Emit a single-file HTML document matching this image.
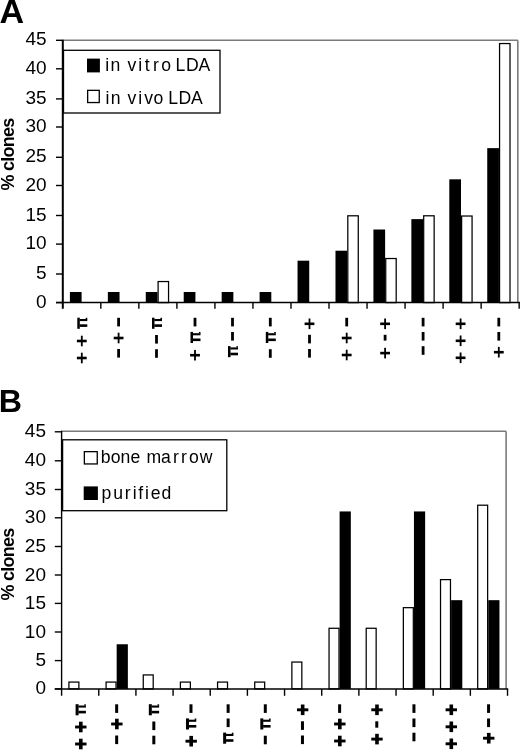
<!DOCTYPE html>
<html><head><meta charset="utf-8"><title>% clones</title>
<style>
html,body{margin:0;padding:0;background:#fff;}
body{width:520px;height:750px;overflow:hidden;}
svg{display:block;will-change:transform;}
text{font-family:"Liberation Sans", sans-serif;font-size:17.6px;fill:#000;letter-spacing:0;}
text.lg{letter-spacing:0;}
text.big{font-weight:bold;font-size:31.5px;letter-spacing:0;stroke:none;}
text.yl{font-weight:bold;font-size:18px;letter-spacing:-0.75px;stroke:none;}
</style></head><body>
<svg width="520" height="750" viewBox="0 0 520 750">
<rect width="520" height="750" fill="#fff"/>
<text transform="translate(-0.6,22.75) scale(1.04,1)" class="big" style="font-size:32.8px">A</text>
<text transform="translate(-1.3,412.3) scale(1.0,1)" class="big" style="font-size:32.2px">B</text>
<line x1="62.8" y1="40.3" x2="517.8" y2="40.3" stroke="#7a7a7a" stroke-width="1.6"/>
<line x1="517.8" y1="40.3" x2="517.8" y2="302.6" stroke="#7a7a7a" stroke-width="1.6"/>
<rect x="69.9" y="291.99" width="11.7" height="10.61" fill="#000"/>
<rect x="107.84" y="291.99" width="11.7" height="10.61" fill="#000"/>
<rect x="145.78" y="291.99" width="11.7" height="10.61" fill="#000"/>
<rect x="158.1" y="281.54" width="10.45" height="21.06" fill="#fff" stroke="#000" stroke-width="1.25"/>
<rect x="183.72" y="291.99" width="11.7" height="10.61" fill="#000"/>
<rect x="221.66" y="291.99" width="11.7" height="10.61" fill="#000"/>
<rect x="259.6" y="291.99" width="11.7" height="10.61" fill="#000"/>
<rect x="297.54" y="260.69" width="11.7" height="41.91" fill="#000"/>
<rect x="335.48" y="250.72" width="11.7" height="51.88" fill="#000"/>
<rect x="347.81" y="215.79" width="10.45" height="86.81" fill="#fff" stroke="#000" stroke-width="1.25"/>
<rect x="373.42" y="229.51" width="11.7" height="73.09" fill="#000"/>
<rect x="385.74" y="258.52" width="10.45" height="44.08" fill="#fff" stroke="#000" stroke-width="1.25"/>
<rect x="411.36" y="219.13" width="11.7" height="83.47" fill="#000"/>
<rect x="423.69" y="215.79" width="10.45" height="86.81" fill="#fff" stroke="#000" stroke-width="1.25"/>
<rect x="449.3" y="179.32" width="11.7" height="123.28" fill="#000"/>
<rect x="461.62" y="216.02" width="10.45" height="86.58" fill="#fff" stroke="#000" stroke-width="1.25"/>
<rect x="487.24" y="148.13" width="11.7" height="154.47" fill="#000"/>
<rect x="499.56" y="43.55" width="10.45" height="259.05" fill="#fff" stroke="#000" stroke-width="1.25"/>
<line x1="62.8" y1="39.7" x2="62.8" y2="308.8" stroke="#000" stroke-width="2"/>
<line x1="56" y1="302.6" x2="519.9" y2="302.6" stroke="#000" stroke-width="1.5"/>
<line x1="56" y1="302.6" x2="62.8" y2="302.6" stroke="#000" stroke-width="1.4"/>
<text transform="translate(46.6,307.7) scale(1.08,1)" text-anchor="end">0</text>
<line x1="56" y1="274" x2="62.8" y2="274" stroke="#000" stroke-width="1.4"/>
<text transform="translate(46.6,279.1) scale(1.08,1)" text-anchor="end">5</text>
<line x1="56" y1="244.1" x2="62.8" y2="244.1" stroke="#000" stroke-width="1.4"/>
<text transform="translate(46.6,249.2) scale(1.08,1)" text-anchor="end">10</text>
<line x1="56" y1="215.5" x2="62.8" y2="215.5" stroke="#000" stroke-width="1.4"/>
<text transform="translate(46.6,220.6) scale(1.08,1)" text-anchor="end">15</text>
<line x1="56" y1="185.5" x2="62.8" y2="185.5" stroke="#000" stroke-width="1.4"/>
<text transform="translate(46.6,190.6) scale(1.08,1)" text-anchor="end">20</text>
<line x1="56" y1="157.3" x2="62.8" y2="157.3" stroke="#000" stroke-width="1.4"/>
<text transform="translate(46.6,162.4) scale(1.08,1)" text-anchor="end">25</text>
<line x1="56" y1="127" x2="62.8" y2="127" stroke="#000" stroke-width="1.4"/>
<text transform="translate(46.6,132.1) scale(1.08,1)" text-anchor="end">30</text>
<line x1="56" y1="98.9" x2="62.8" y2="98.9" stroke="#000" stroke-width="1.4"/>
<text transform="translate(46.6,104) scale(1.08,1)" text-anchor="end">35</text>
<line x1="56" y1="68.8" x2="62.8" y2="68.8" stroke="#000" stroke-width="1.4"/>
<text transform="translate(46.6,73.9) scale(1.08,1)" text-anchor="end">40</text>
<line x1="56" y1="40.3" x2="62.8" y2="40.3" stroke="#000" stroke-width="1.4"/>
<text transform="translate(46.6,45.4) scale(1.08,1)" text-anchor="end">45</text>
<line x1="100.83" y1="302.6" x2="100.83" y2="308.8" stroke="#000" stroke-width="1.4"/>
<line x1="138.86" y1="302.6" x2="138.86" y2="308.8" stroke="#000" stroke-width="1.4"/>
<line x1="176.89" y1="302.6" x2="176.89" y2="308.8" stroke="#000" stroke-width="1.4"/>
<line x1="214.92" y1="302.6" x2="214.92" y2="308.8" stroke="#000" stroke-width="1.4"/>
<line x1="252.95" y1="302.6" x2="252.95" y2="308.8" stroke="#000" stroke-width="1.4"/>
<line x1="290.98" y1="302.6" x2="290.98" y2="308.8" stroke="#000" stroke-width="1.4"/>
<line x1="329.01" y1="302.6" x2="329.01" y2="308.8" stroke="#000" stroke-width="1.4"/>
<line x1="367.04" y1="302.6" x2="367.04" y2="308.8" stroke="#000" stroke-width="1.4"/>
<line x1="405.07" y1="302.6" x2="405.07" y2="308.8" stroke="#000" stroke-width="1.4"/>
<line x1="443.1" y1="302.6" x2="443.1" y2="308.8" stroke="#000" stroke-width="1.4"/>
<line x1="481.13" y1="302.6" x2="481.13" y2="308.8" stroke="#000" stroke-width="1.4"/>
<line x1="519.16" y1="302.6" x2="519.16" y2="308.8" stroke="#000" stroke-width="1.4"/>
<rect x="77.3" y="317.7" width="2.5" height="11.1" fill="#000"/>
<rect x="79.6" y="319" width="7.7" height="2.1" fill="#000"/>
<rect x="79.6" y="324.3" width="7.7" height="2.6" fill="#000"/>
<rect x="85.7" y="317.8" width="1.6" height="1.4" fill="#000"/>
<rect x="80.9" y="335.7" width="1.8" height="10.6" fill="#000"/>
<rect x="76.9" y="339.7" width="9.8" height="2.6" fill="#000"/>
<rect x="80.9" y="352.7" width="1.8" height="10.6" fill="#000"/>
<rect x="76.9" y="356.7" width="9.8" height="2.6" fill="#000"/>
<rect x="117.2" y="317.8" width="2.8" height="8.6" fill="#000"/>
<rect x="117.7" y="332.7" width="1.8" height="10.6" fill="#000"/>
<rect x="113.7" y="336.7" width="9.8" height="2.6" fill="#000"/>
<rect x="117.2" y="349" width="2.8" height="8.6" fill="#000"/>
<rect x="152" y="317.7" width="2.5" height="11.1" fill="#000"/>
<rect x="154.3" y="319" width="7.7" height="2.1" fill="#000"/>
<rect x="154.3" y="324.3" width="7.7" height="2.6" fill="#000"/>
<rect x="160.4" y="317.8" width="1.6" height="1.4" fill="#000"/>
<rect x="155.1" y="335" width="2.8" height="8.6" fill="#000"/>
<rect x="155.1" y="349.2" width="2.8" height="8.6" fill="#000"/>
<rect x="193.6" y="317.8" width="2.8" height="8.6" fill="#000"/>
<rect x="190.5" y="331.9" width="2.5" height="11.1" fill="#000"/>
<rect x="192.8" y="333.2" width="7.7" height="2.1" fill="#000"/>
<rect x="192.8" y="338.5" width="7.7" height="2.6" fill="#000"/>
<rect x="198.9" y="332" width="1.6" height="1.4" fill="#000"/>
<rect x="194.1" y="349.9" width="1.8" height="10.6" fill="#000"/>
<rect x="190.1" y="353.9" width="9.8" height="2.6" fill="#000"/>
<rect x="231.1" y="317.8" width="2.8" height="8.6" fill="#000"/>
<rect x="231.1" y="332" width="2.8" height="8.6" fill="#000"/>
<rect x="228" y="346.1" width="2.5" height="11.1" fill="#000"/>
<rect x="230.3" y="347.4" width="7.7" height="2.1" fill="#000"/>
<rect x="230.3" y="352.7" width="7.7" height="2.6" fill="#000"/>
<rect x="236.4" y="346.2" width="1.6" height="1.4" fill="#000"/>
<rect x="268.9" y="317.8" width="2.8" height="8.6" fill="#000"/>
<rect x="265.8" y="331.9" width="2.5" height="11.1" fill="#000"/>
<rect x="268.1" y="333.2" width="7.7" height="2.1" fill="#000"/>
<rect x="268.1" y="338.5" width="7.7" height="2.6" fill="#000"/>
<rect x="274.2" y="332" width="1.6" height="1.4" fill="#000"/>
<rect x="268.9" y="349.2" width="2.8" height="8.6" fill="#000"/>
<rect x="308.6" y="318.5" width="1.8" height="10.6" fill="#000"/>
<rect x="304.6" y="322.5" width="9.8" height="2.6" fill="#000"/>
<rect x="308.1" y="334.8" width="2.8" height="8.6" fill="#000"/>
<rect x="308.1" y="349" width="2.8" height="8.6" fill="#000"/>
<rect x="345.3" y="317.8" width="2.8" height="8.6" fill="#000"/>
<rect x="345.8" y="332.7" width="1.8" height="10.6" fill="#000"/>
<rect x="341.8" y="336.7" width="9.8" height="2.6" fill="#000"/>
<rect x="345.8" y="349.7" width="1.8" height="10.6" fill="#000"/>
<rect x="341.8" y="353.7" width="9.8" height="2.6" fill="#000"/>
<rect x="384.2" y="318.5" width="1.8" height="10.6" fill="#000"/>
<rect x="380.2" y="322.5" width="9.8" height="2.6" fill="#000"/>
<rect x="383.7" y="334.8" width="2.8" height="5.8" fill="#000"/>
<rect x="384.2" y="347.8" width="1.8" height="10.6" fill="#000"/>
<rect x="380.2" y="351.8" width="9.8" height="2.6" fill="#000"/>
<rect x="421.7" y="317.8" width="2.8" height="8.6" fill="#000"/>
<rect x="421.7" y="332" width="2.8" height="8.6" fill="#000"/>
<rect x="421.7" y="346.2" width="2.8" height="8.6" fill="#000"/>
<rect x="459.7" y="318.5" width="1.8" height="10.6" fill="#000"/>
<rect x="455.7" y="322.5" width="9.8" height="2.6" fill="#000"/>
<rect x="459.7" y="335.5" width="1.8" height="10.6" fill="#000"/>
<rect x="455.7" y="339.5" width="9.8" height="2.6" fill="#000"/>
<rect x="459.7" y="352.5" width="1.8" height="10.6" fill="#000"/>
<rect x="455.7" y="356.5" width="9.8" height="2.6" fill="#000"/>
<rect x="497.4" y="317.8" width="2.8" height="8.6" fill="#000"/>
<rect x="497.4" y="332" width="2.8" height="8.6" fill="#000"/>
<rect x="497.9" y="346.9" width="1.8" height="10.6" fill="#000"/>
<rect x="493.9" y="350.9" width="9.8" height="2.6" fill="#000"/>
<rect x="63.5" y="50.3" width="156.5" height="62.7" fill="#fff" stroke="#000" stroke-width="1.3"/>
<rect x="87" y="58.6" width="12.9" height="13.8" fill="#000"/>
<text x="105.35 110.55 116.55 127.5 138.2 144.8 153.03 161.22 167.22 175.57 185.88 198.43" y="70.9" class="lg">in vitro LDA</text>
<rect x="87.65" y="90.35" width="11.6" height="12.2" fill="#fff" stroke="#000" stroke-width="1.3"/>
<text x="105.55 110.7 116.7 127.5 138.2 144.2 153.57 159.57 168.27 178.57 190.88" y="103.5" class="lg">in vivo LDA</text>
<text transform="translate(14.2,154.6) rotate(-90)" class="yl" text-anchor="middle">% clones</text>
<line x1="61.6" y1="431.3" x2="506.1" y2="431.3" stroke="#7a7a7a" stroke-width="1.6"/>
<line x1="506.1" y1="431.3" x2="506.1" y2="688.9" stroke="#7a7a7a" stroke-width="1.6"/>
<rect x="68.92" y="682.08" width="9.95" height="6.82" fill="#fff" stroke="#000" stroke-width="1.25"/>
<rect x="106.08" y="682.08" width="9.95" height="6.82" fill="#fff" stroke="#000" stroke-width="1.25"/>
<rect x="116.66" y="644.25" width="11.2" height="44.65" fill="#000"/>
<rect x="143.25" y="674.93" width="9.95" height="13.97" fill="#fff" stroke="#000" stroke-width="1.25"/>
<rect x="180.4" y="682.08" width="9.95" height="6.82" fill="#fff" stroke="#000" stroke-width="1.25"/>
<rect x="217.56" y="682.08" width="9.95" height="6.82" fill="#fff" stroke="#000" stroke-width="1.25"/>
<rect x="254.72" y="682.08" width="9.95" height="6.82" fill="#fff" stroke="#000" stroke-width="1.25"/>
<rect x="291.88" y="662.05" width="9.95" height="26.85" fill="#fff" stroke="#000" stroke-width="1.25"/>
<rect x="329.05" y="628.27" width="9.95" height="60.63" fill="#fff" stroke="#000" stroke-width="1.25"/>
<rect x="339.62" y="511.44" width="11.2" height="177.46" fill="#000"/>
<rect x="366.2" y="628.27" width="9.95" height="60.63" fill="#fff" stroke="#000" stroke-width="1.25"/>
<rect x="403.36" y="607.67" width="9.95" height="81.23" fill="#fff" stroke="#000" stroke-width="1.25"/>
<rect x="413.94" y="511.44" width="11.2" height="177.46" fill="#000"/>
<rect x="440.52" y="579.62" width="9.95" height="109.28" fill="#fff" stroke="#000" stroke-width="1.25"/>
<rect x="451.1" y="600.17" width="11.2" height="88.73" fill="#000"/>
<rect x="477.69" y="505.2" width="9.95" height="183.7" fill="#fff" stroke="#000" stroke-width="1.25"/>
<rect x="488.26" y="600.17" width="11.2" height="88.73" fill="#000"/>
<line x1="61.6" y1="430.7" x2="61.6" y2="695.8" stroke="#000" stroke-width="1.4"/>
<line x1="54.8" y1="688.9" x2="508.2" y2="688.9" stroke="#000" stroke-width="1.5"/>
<line x1="54.8" y1="688.9" x2="61.6" y2="688.9" stroke="#000" stroke-width="1.4"/>
<text transform="translate(46,694.4) scale(1.08,1)" text-anchor="end">0</text>
<line x1="54.8" y1="660.6" x2="61.6" y2="660.6" stroke="#000" stroke-width="1.4"/>
<text transform="translate(46,666.1) scale(1.08,1)" text-anchor="end">5</text>
<line x1="54.8" y1="632" x2="61.6" y2="632" stroke="#000" stroke-width="1.4"/>
<text transform="translate(46,637.5) scale(1.08,1)" text-anchor="end">10</text>
<line x1="54.8" y1="603.4" x2="61.6" y2="603.4" stroke="#000" stroke-width="1.4"/>
<text transform="translate(46,608.9) scale(1.08,1)" text-anchor="end">15</text>
<line x1="54.8" y1="575" x2="61.6" y2="575" stroke="#000" stroke-width="1.4"/>
<text transform="translate(46,580.5) scale(1.08,1)" text-anchor="end">20</text>
<line x1="54.8" y1="546.5" x2="61.6" y2="546.5" stroke="#000" stroke-width="1.4"/>
<text transform="translate(46,552) scale(1.08,1)" text-anchor="end">25</text>
<line x1="54.8" y1="517.8" x2="61.6" y2="517.8" stroke="#000" stroke-width="1.4"/>
<text transform="translate(46,523.3) scale(1.08,1)" text-anchor="end">30</text>
<line x1="54.8" y1="489.5" x2="61.6" y2="489.5" stroke="#000" stroke-width="1.4"/>
<text transform="translate(46,495) scale(1.08,1)" text-anchor="end">35</text>
<line x1="54.8" y1="460.8" x2="61.6" y2="460.8" stroke="#000" stroke-width="1.4"/>
<text transform="translate(46,466.3) scale(1.08,1)" text-anchor="end">40</text>
<line x1="54.8" y1="431.8" x2="61.6" y2="431.8" stroke="#000" stroke-width="1.4"/>
<text transform="translate(46,437.3) scale(1.08,1)" text-anchor="end">45</text>
<line x1="98.76" y1="688.9" x2="98.76" y2="695.8" stroke="#000" stroke-width="1.4"/>
<line x1="135.92" y1="688.9" x2="135.92" y2="695.8" stroke="#000" stroke-width="1.4"/>
<line x1="173.08" y1="688.9" x2="173.08" y2="695.8" stroke="#000" stroke-width="1.4"/>
<line x1="210.24" y1="688.9" x2="210.24" y2="695.8" stroke="#000" stroke-width="1.4"/>
<line x1="247.4" y1="688.9" x2="247.4" y2="695.8" stroke="#000" stroke-width="1.4"/>
<line x1="284.56" y1="688.9" x2="284.56" y2="695.8" stroke="#000" stroke-width="1.4"/>
<line x1="321.72" y1="688.9" x2="321.72" y2="695.8" stroke="#000" stroke-width="1.4"/>
<line x1="358.88" y1="688.9" x2="358.88" y2="695.8" stroke="#000" stroke-width="1.4"/>
<line x1="396.04" y1="688.9" x2="396.04" y2="695.8" stroke="#000" stroke-width="1.4"/>
<line x1="433.2" y1="688.9" x2="433.2" y2="695.8" stroke="#000" stroke-width="1.4"/>
<line x1="470.36" y1="688.9" x2="470.36" y2="695.8" stroke="#000" stroke-width="1.4"/>
<line x1="507.52" y1="688.9" x2="507.52" y2="695.8" stroke="#000" stroke-width="1.4"/>
<rect x="75.6" y="704.2" width="3" height="11.1" fill="#000"/>
<rect x="78.4" y="705.5" width="7.5" height="2.1" fill="#000"/>
<rect x="78.4" y="710.8" width="7.5" height="2.6" fill="#000"/>
<rect x="84.3" y="704.3" width="1.6" height="1.4" fill="#000"/>
<rect x="79" y="721.7" width="3.6" height="10.6" fill="#000"/>
<rect x="75.1" y="725.55" width="11.4" height="2.9" fill="#000"/>
<rect x="79" y="738.7" width="3.6" height="10.6" fill="#000"/>
<rect x="75.1" y="742.55" width="11.4" height="2.9" fill="#000"/>
<rect x="115.16" y="704.3" width="3" height="8.6" fill="#000"/>
<rect x="115.06" y="718.7" width="3.6" height="10.6" fill="#000"/>
<rect x="111.16" y="722.55" width="11.4" height="2.9" fill="#000"/>
<rect x="115.16" y="735.5" width="3" height="8.6" fill="#000"/>
<rect x="148.82" y="704.2" width="3" height="11.1" fill="#000"/>
<rect x="151.62" y="705.5" width="7.5" height="2.1" fill="#000"/>
<rect x="151.62" y="710.8" width="7.5" height="2.6" fill="#000"/>
<rect x="157.52" y="704.3" width="1.6" height="1.4" fill="#000"/>
<rect x="152.32" y="721.5" width="3" height="8.6" fill="#000"/>
<rect x="152.32" y="735.7" width="3" height="8.6" fill="#000"/>
<rect x="189.48" y="704.3" width="3" height="8.6" fill="#000"/>
<rect x="185.98" y="718.4" width="3" height="11.1" fill="#000"/>
<rect x="188.78" y="719.7" width="7.5" height="2.1" fill="#000"/>
<rect x="188.78" y="725" width="7.5" height="2.6" fill="#000"/>
<rect x="194.68" y="718.5" width="1.6" height="1.4" fill="#000"/>
<rect x="189.38" y="735.9" width="3.6" height="10.6" fill="#000"/>
<rect x="185.48" y="739.75" width="11.4" height="2.9" fill="#000"/>
<rect x="226.64" y="704.3" width="3" height="8.6" fill="#000"/>
<rect x="226.64" y="718.5" width="3" height="8.6" fill="#000"/>
<rect x="223.14" y="732.6" width="3" height="11.1" fill="#000"/>
<rect x="225.94" y="733.9" width="7.5" height="2.1" fill="#000"/>
<rect x="225.94" y="739.2" width="7.5" height="2.6" fill="#000"/>
<rect x="231.84" y="732.7" width="1.6" height="1.4" fill="#000"/>
<rect x="263.8" y="704.3" width="3" height="8.6" fill="#000"/>
<rect x="260.3" y="718.4" width="3" height="11.1" fill="#000"/>
<rect x="263.1" y="719.7" width="7.5" height="2.1" fill="#000"/>
<rect x="263.1" y="725" width="7.5" height="2.6" fill="#000"/>
<rect x="269" y="718.5" width="1.6" height="1.4" fill="#000"/>
<rect x="263.8" y="735.7" width="3" height="8.6" fill="#000"/>
<rect x="300.86" y="704.5" width="3.6" height="10.6" fill="#000"/>
<rect x="296.96" y="708.35" width="11.4" height="2.9" fill="#000"/>
<rect x="300.96" y="721.3" width="3" height="8.6" fill="#000"/>
<rect x="300.96" y="735.5" width="3" height="8.6" fill="#000"/>
<rect x="338.12" y="704.3" width="3" height="8.6" fill="#000"/>
<rect x="338.02" y="718.7" width="3.6" height="10.6" fill="#000"/>
<rect x="334.12" y="722.55" width="11.4" height="2.9" fill="#000"/>
<rect x="338.02" y="735.7" width="3.6" height="10.6" fill="#000"/>
<rect x="334.12" y="739.55" width="11.4" height="2.9" fill="#000"/>
<rect x="375.18" y="704.5" width="3.6" height="10.6" fill="#000"/>
<rect x="371.28" y="708.35" width="11.4" height="2.9" fill="#000"/>
<rect x="375.28" y="721.3" width="3" height="6.4" fill="#000"/>
<rect x="375.18" y="733.8" width="3.6" height="10.6" fill="#000"/>
<rect x="371.28" y="737.65" width="11.4" height="2.9" fill="#000"/>
<rect x="412.44" y="704.3" width="3" height="8.6" fill="#000"/>
<rect x="412.44" y="718.5" width="3" height="8.6" fill="#000"/>
<rect x="412.44" y="732.7" width="3" height="8.6" fill="#000"/>
<rect x="449.5" y="704.5" width="3.6" height="10.6" fill="#000"/>
<rect x="445.6" y="708.35" width="11.4" height="2.9" fill="#000"/>
<rect x="449.5" y="721.5" width="3.6" height="10.6" fill="#000"/>
<rect x="445.6" y="725.35" width="11.4" height="2.9" fill="#000"/>
<rect x="449.5" y="738.5" width="3.6" height="10.6" fill="#000"/>
<rect x="445.6" y="742.35" width="11.4" height="2.9" fill="#000"/>
<rect x="487.06" y="704.3" width="3" height="8.6" fill="#000"/>
<rect x="487.06" y="718.5" width="3" height="8.6" fill="#000"/>
<rect x="486.96" y="732.9" width="3.6" height="10.6" fill="#000"/>
<rect x="483.06" y="736.75" width="11.4" height="2.9" fill="#000"/>
<rect x="62.6" y="439.8" width="164.2" height="70.9" fill="#fff" stroke="#000" stroke-width="1.3"/>
<rect x="84.35" y="451.65" width="12.9" height="12.3" fill="#fff" stroke="#000" stroke-width="1.3"/>
<text x="100.82 110.67 120.55 130.57 136.57 146.38 160.95 172.93 180.98 188.93 199.78" y="463" class="lg">bone marrow</text>
<rect x="83.7" y="486.4" width="14.2" height="13.6" fill="#000"/>
<text x="101.38 113.18 124.72 132.65 138.28 144.95 150.68 161.6" y="499.4" class="lg">purified</text>
<text transform="translate(14.2,564.4) rotate(-90)" class="yl" text-anchor="middle">% clones</text>
</svg>
</body></html>
